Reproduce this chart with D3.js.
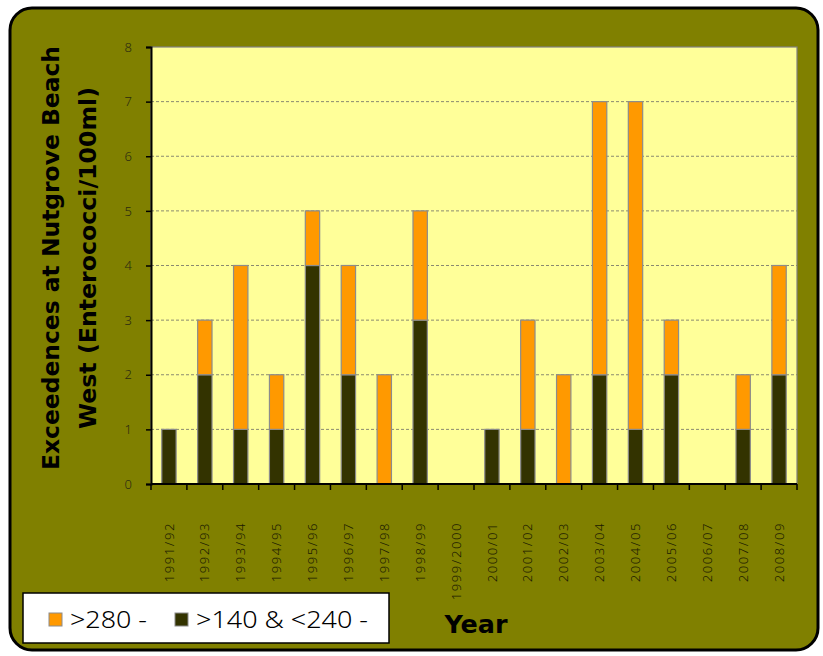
<!DOCTYPE html>
<html>
<head>
<meta charset="utf-8">
<script src="https://cdn.jsdelivr.net/npm/d3@7"></script>
<style>
  html, body { margin: 0; padding: 0; background: #fff; }
  svg { display: block; }
</style>
</head>
<body>
<svg id="chart" width="823" height="656"></svg>
<script>
// Season labels
const seasons = ["1991/92","1992/93","1993/94","1994/95","1995/96","1996/97","1997/98","1998/99","1999/2000",
  "2000/01","2001/02","2002/03","2003/04","2004/05","2005/06","2006/07","2007/08","2008/09"];
// Exceedences between 140 and 240 per season
const mid = [1,2,1,1,4,2,0,3,0,1,1,0,2,1,2,0,1,2];
// Exceedences above 280 per season
const high = [0,1,3,1,1,2,2,2,0,0,2,2,5,6,1,0,1,2];
const seriesNames = [">140 & <240 -", ">280 -"];
const yTicks = [0,1,2,3,4,5,6,7,8];

const svg = d3.select("#chart");

// Rounded olive frame
svg.append("rect")
  .attr("x", 10).attr("y", 8).attr("width", 808).attr("height", 642)
  .attr("rx", 22).attr("ry", 22)
  .attr("fill", "#808000").attr("stroke", "#000").attr("stroke-width", 3);

const plot = { left: 151, top: 47, right: 797, bottom: 484 };

const x = d3.scaleBand().domain(seasons).range([plot.left, plot.right]).paddingInner(0.6).paddingOuter(0.3);
const xCat = d3.scaleBand().domain(seasons).range([plot.left, plot.right]);
const y = d3.scaleLinear().domain([0, 8]).range([plot.bottom, plot.top]);

// Plot background
svg.append("rect")
  .attr("x", plot.left).attr("y", plot.top)
  .attr("width", plot.right - plot.left).attr("height", plot.bottom - plot.top)
  .attr("fill", "#FFFF99").attr("stroke", "#808080").attr("stroke-width", 1.2);

// Gridlines
svg.append("g").selectAll("line")
  .data(yTicks.filter(t => t > 0 && t < 8))
  .join("line")
  .attr("x1", plot.left).attr("x2", plot.right)
  .attr("y1", d => y(d)).attr("y2", d => y(d))
  .attr("stroke", "#8a8a70").attr("stroke-width", 1)
  .attr("stroke-dasharray", "3,2");

// Stacked bars
const rows = seasons.map((s, i) => ({ season: s, mid: mid[i], high: high[i] }));
const stack = d3.stack().keys(["mid", "high"])(rows);
const colors = { mid: "#333300", high: "#FF9900" };

svg.append("g").selectAll("g")
  .data(stack)
  .join("g")
  .attr("fill", d => colors[d.key])
  .selectAll("rect")
  .data(d => d.filter(p => p[1] - p[0] > 0))
  .join("rect")
  .attr("x", d => x(d.data.season))
  .attr("width", x.bandwidth())
  .attr("y", d => y(d[1]))
  .attr("height", d => y(d[0]) - y(d[1]))
  .attr("stroke", "#8c8c8c").attr("stroke-width", 1.2);

// Y axis
const yAxis = svg.append("g")
  .attr("transform", `translate(${plot.left},0)`)
  .call(d3.axisLeft(y).tickValues(yTicks).tickSize(5).tickPadding(14).tickFormat(d3.format("d")));
yAxis.select(".domain").attr("stroke", "#000").attr("stroke-width", 2);
yAxis.selectAll(".tick line").attr("stroke", "#000").attr("stroke-width", 1.5);
yAxis.selectAll(".tick text")
  .attr("font-family", "'Noto Sans', sans-serif").attr("font-size", 13)
  .attr("font-weight", 300)
  .attr("fill", "#2a2a10");

// X axis with ticks at category boundaries
const xAxisG = svg.append("g").attr("transform", `translate(0,${plot.bottom})`);
xAxisG.append("line")
  .attr("x1", plot.left).attr("x2", plot.right)
  .attr("stroke", "#000").attr("stroke-width", 2);
const bounds = seasons.map(s => xCat(s)).concat([plot.right]);
xAxisG.selectAll("line.tk").data(bounds).join("line")
  .attr("class", "tk")
  .attr("x1", d => d).attr("x2", d => d)
  .attr("y1", 0).attr("y2", 6)
  .attr("stroke", "#000").attr("stroke-width", 1.5);

xAxisG.selectAll("text").data(seasons).join("text")
  .attr("transform", d => `translate(${xCat(d) + xCat.bandwidth() / 2},38) rotate(-90)`)
  .attr("text-anchor", "end")
  .attr("dy", "0.35em")
  .attr("font-family", "'Noto Sans', sans-serif").attr("font-size", 13)
  .attr("font-weight", 300)
  .attr("letter-spacing", 1.6)
  .attr("fill", "#1a1a00")
  .text(d => d);

// Y axis title
const yTitle = svg.append("text")
  .attr("transform", "translate(59,258) rotate(-90)")
  .attr("text-anchor", "middle")
  .attr("font-family", "'DejaVu Sans', sans-serif").attr("font-weight", "bold")
  .attr("font-size", 23).attr("fill", "#000");
yTitle.append("tspan").attr("x", 0).attr("dy", 0)
  .attr("textLength", 424).attr("lengthAdjust", "spacingAndGlyphs")
  .text("Exceedences at Nutgrove Beach");
yTitle.append("tspan").attr("x", 0).attr("dy", 37)
  .attr("textLength", 342).attr("lengthAdjust", "spacingAndGlyphs")
  .text("West (Enterococci/100ml)");

// X axis title
svg.append("text")
  .attr("x", 476).attr("y", 633)
  .attr("text-anchor", "middle")
  .attr("font-family", "'DejaVu Sans', sans-serif").attr("font-weight", "bold")
  .attr("font-size", 24).attr("fill", "#000")
  .attr("textLength", 63).attr("lengthAdjust", "spacingAndGlyphs")
  .text("Year");

// Legend
const legend = svg.append("g");
legend.append("rect")
  .attr("x", 23).attr("y", 593).attr("width", 366).attr("height", 50)
  .attr("fill", "#fff").attr("stroke", "#000").attr("stroke-width", 1.5);
const legendItems = [
  { key: "high", label: seriesNames[1], x: 49, len: 77 },
  { key: "mid", label: seriesNames[0], x: 175, len: 172 }
];
const li = legend.selectAll("g.item").data(legendItems).join("g")
  .attr("class", "item")
  .attr("transform", d => `translate(${d.x},613)`);
li.append("rect")
  .attr("width", 13).attr("height", 13)
  .attr("fill", d => colors[d.key]).attr("stroke", "#8c8c8c").attr("stroke-width", 1);
li.append("text")
  .attr("x", 21).attr("y", 15)
  .attr("font-family", "'Noto Sans', sans-serif").attr("font-size", 23)
  .attr("font-weight", 300)
  .attr("textLength", d => d.len).attr("lengthAdjust", "spacingAndGlyphs")
  .attr("fill", "#000")
  .text(d => d.label);
</script>
</body>
</html>
